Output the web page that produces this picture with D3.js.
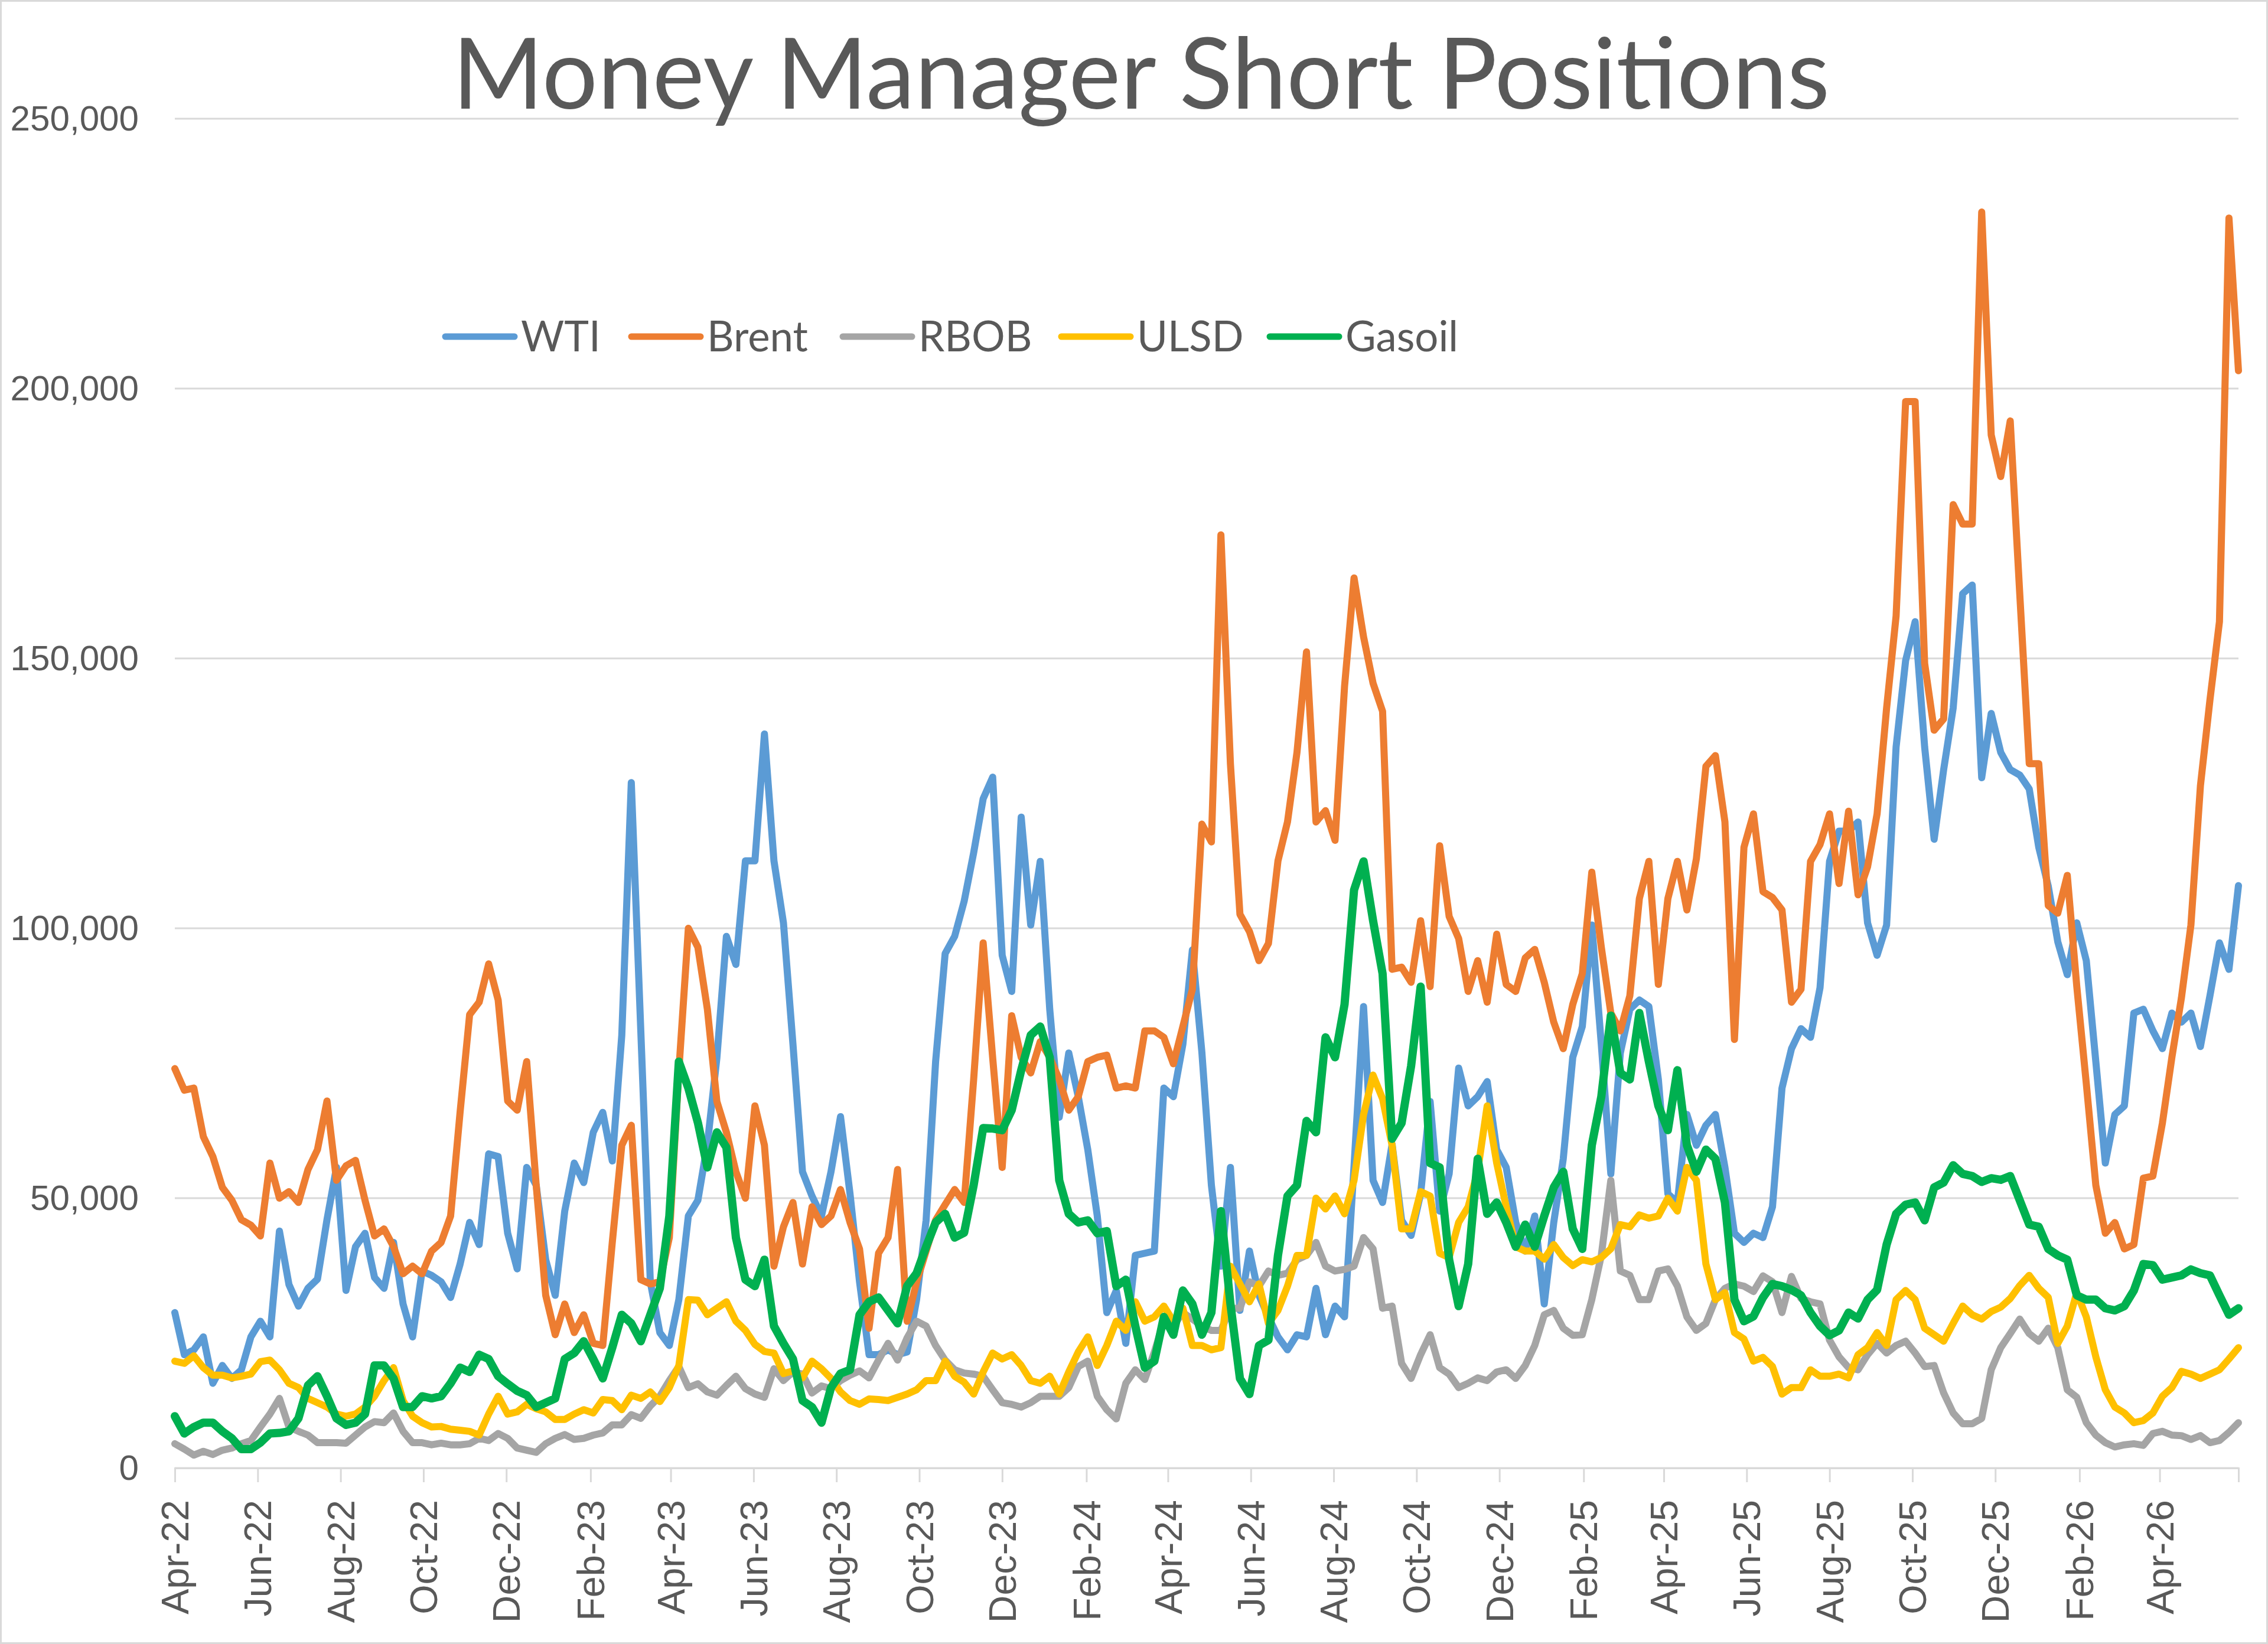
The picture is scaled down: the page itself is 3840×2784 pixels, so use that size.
<!DOCTYPE html>
<html>
<head>
<meta charset="utf-8">
<script src="https://cdn.jsdelivr.net/npm/d3@7"></script>
<style>
  html, body { margin: 0; padding: 0; background: #fff; }
  svg { display: block; font-family: Lato, "Open Sans", sans-serif; }
</style>
</head>
<body>
<svg id="chart"></svg>
<script>
// weekly report dates start here, one point per week
const firstWeek = "2022-04-05";
const seriesNames = ["WTI", "Brent", "RBOB", "ULSD", "Gasoil"];
const seriesColors = ["#5B9BD5", "#ED7D31", "#A5A5A5", "#FFC000", "#00B050"];
const yTicks = [0, 50000, 100000, 150000, 200000, 250000];
const tickLabels = ["Apr-22", "Jun-22", "Aug-22", "Oct-22", "Dec-22", "Feb-23", "Apr-23", "Jun-23",
    "Aug-23", "Oct-23", "Dec-23", "Feb-24", "Apr-24", "Jun-24", "Aug-24", "Oct-24", "Dec-24",
    "Feb-25", "Apr-25", "Jun-25", "Aug-25", "Oct-25", "Dec-25", "Feb-26", "Apr-26"];

const wti = [
    28800, 21000, 21900, 24300, 15700, 19000, 16600, 18200, 24300, 27200,
    24300, 43900, 34000, 30000, 33300, 35000, 46000, 55700, 32900, 41000,
    43500, 35300, 33300, 41800, 30400, 24300, 36500, 35700, 34500, 31600,
    37800, 45500, 41400, 58200, 57700, 43500, 36900, 55700, 52400, 38600,
    32000, 47600, 56500, 52900, 62200, 65900, 56900, 80200, 127000, 81000,
    34500, 25100, 22700, 31200, 46700, 49600, 60000, 76000, 98500, 93300,
    112500, 112500, 136000, 112500, 101000, 78500, 54900, 50400, 46700, 54900,
    65100, 50800, 34500, 21000, 21000, 21900, 21000, 21500, 31200, 45900,
    75300, 95300, 98500, 105000, 114000, 124000, 128000, 95000, 88300, 120600,
    100600, 112400, 85000, 65000, 76900, 68800, 59000, 46700, 28800, 32900,
    23100, 39400, 39800, 40200, 70400, 68800, 78500, 96000, 77000, 52400,
    37400, 55700, 29200, 40200, 32000, 28000, 24300, 21900, 24700, 24300,
    33300, 24700, 30000, 28000, 56000, 85500, 53300, 49200, 60000, 45900,
    43100, 50800, 67900, 47600, 54500, 74100, 67100, 68800, 71600, 59000,
    55700, 45500, 40200, 46700, 30400, 45500, 57300, 76100, 81800, 100600,
    78500, 54500, 76900, 85000, 86700, 85500, 72000, 50800, 49200, 65500,
    59800, 63500, 65500, 55700, 43500, 41800, 43500, 42700, 48400, 70400,
    77700, 81400, 79800, 89000, 112400, 118000, 118000, 119700, 101000, 95000,
    100600, 133600, 149600, 156800, 133600, 116500, 129400, 140800, 162000, 163600,
    127900, 139800, 132600, 129400, 128400, 125800, 115000, 107800, 97500, 91400,
    101000, 94000, 75300, 56500, 65500, 67100, 84300, 85000, 81000, 77700,
    84300, 82600, 84300, 78100, 87500, 97300, 92400, 107900
];

const brent = [
    74000, 70000, 70400, 61400, 57700, 52000, 49600, 46000, 45000, 43000,
    56500, 50000, 51200, 49200, 55300, 59000, 68000, 53300, 56000, 57000,
    49600, 43000, 44300, 41000, 36000, 37400, 36000, 40200, 41800, 46700,
    66000, 84000, 86300, 93400, 86700, 68000, 66300, 75300, 52400, 32000,
    24700, 30400, 25100, 28400, 23100, 22700, 41800, 59800, 63500, 34900,
    34100, 34500, 42700, 73600, 100000, 96500, 85000, 67900, 62200, 54900,
    50000, 67100, 59800, 37400, 44700, 49200, 37800, 48400, 45100, 46700,
    51600, 45500, 40600, 25900, 39800, 42700, 55300, 27200, 34500, 40200,
    45900, 48800, 51600, 49200, 72000, 97300, 76000, 55700, 83800, 76100,
    73200, 79000, 76100, 72000, 66300, 68800, 75300, 76100, 76500, 70400,
    70800, 70400, 81000, 81000, 79800, 74900, 81800, 88700, 119300, 116000,
    172900, 130500, 102600, 99400, 94000, 97200, 112500, 119700, 132600, 151200,
    119700, 121800, 116300, 144800, 164900, 154000, 145400, 140200, 92400, 92800,
    90000, 101400, 89200, 115300, 102200, 98100, 88300, 94000, 86300, 98900,
    89600, 88300, 94500, 96100, 90000, 82600, 77700, 85900, 91600, 110400,
    96500, 84300, 81000, 87500, 105500, 112400, 89600, 105500, 112400, 103400,
    112900, 130000, 132000, 119700, 79400, 115000, 121200, 106800, 105700, 103400,
    86300, 88700, 112400, 115500, 121200, 108300, 121700, 106200, 111400, 121200,
    140800, 157900, 197600, 197600, 149100, 136700, 138800, 178500, 174900, 174900,
    232700, 191400, 183700, 194000, 162000, 130500, 130500, 104200, 102800, 109800,
    89200, 71200, 52400, 43500, 45500, 40600, 41400, 53700, 54100, 63900,
    76100, 87100, 100600, 126400, 142300, 156800, 231600, 203300
];

const rbob = [
    4500, 3500, 2400, 3100, 2500, 3300, 3700, 4500, 5100, 7600,
    10000, 12900, 7600, 6800, 6100, 4700, 4700, 4700, 4600, 6100,
    7600, 8600, 8400, 10200, 6800, 4700, 4700, 4300, 4600, 4300,
    4300, 4500, 5500, 5100, 6400, 5500, 3700, 3300, 2900, 4500,
    5500, 6200, 5300, 5500, 6100, 6500, 8000, 8000, 9900, 9200,
    11500, 13300, 16200, 18800, 14900, 15600, 14100, 13500, 15300, 17000,
    14700, 13700, 13100, 18400, 16200, 17800, 17400, 13900, 15200, 14700,
    16200, 17200, 18000, 16700, 20000, 23100, 20000, 24100, 27200, 26300,
    22700, 20000, 18200, 17600, 17400, 17000, 14500, 12100, 11800, 11300,
    12100, 13300, 13300, 13300, 14900, 18800, 19800, 13300, 10800, 9100,
    15700, 18200, 16400, 21500, 27200, 26300, 28800, 27600, 26300, 25500,
    25500, 29600, 29600, 34500, 33700, 36500, 35700, 36100, 38600, 39400,
    41800, 37400, 36500, 36800, 37400, 42700, 40600, 29600, 30000, 19400,
    16600, 21000, 24700, 18600, 17400, 14900, 15700, 16700, 16200, 17800,
    18200, 16600, 19000, 22700, 28400, 29200, 25900, 24600, 24700, 31200,
    39400, 53300, 36500, 35700, 31200, 31200, 36500, 36900, 33700, 28000,
    25500, 26800, 31200, 33300, 34100, 33700, 32700, 35600, 34500, 28800,
    35500, 31400, 30800, 30400, 23700, 20600, 18600, 18200, 21000, 23100,
    21300, 22700, 23500, 21300, 18800, 19000, 13900, 10200, 8200, 8200,
    9200, 18200, 22300, 24900, 27600, 24900, 23500, 25900, 22300, 14500,
    13100, 8400, 6100, 4700, 3900, 4300, 4500, 4200, 6400, 6800,
    6100, 6000, 5300, 6000, 4700, 5100, 6600, 8400
];

const ulsd = [
    19800, 19400, 20800, 18600, 17200, 17200, 16700, 17000, 17400, 19700,
    20000, 18200, 15700, 14900, 12900, 12100, 11300, 10000, 9600, 10000,
    11300, 13300, 16200, 18600, 12500, 9600, 8400, 7600, 7700, 7200,
    7000, 6800, 6100, 10000, 13300, 10000, 10400, 11800, 11000, 10400,
    9000, 9000, 10000, 10800, 10200, 12700, 12500, 10800, 13500, 12900,
    14100, 12300, 14900, 19000, 31200, 31100, 28400, 29600, 30800, 27200,
    25500, 22900, 21600, 21300, 17500, 18000, 16700, 19800, 18400, 16600,
    14100, 12500, 11800, 12800, 12700, 12500, 13100, 13700, 14500, 16200,
    16200, 19800, 17000, 15900, 13700, 17800, 21300, 20200, 21000, 19000,
    16200, 15700, 17000, 13700, 17800, 21500, 24300, 19000, 22700, 27200,
    25500, 30800, 27200, 28000, 30000, 27200, 29600, 22700, 22700, 21900,
    22300, 37400, 34100, 30800, 34100, 26800, 29200, 33700, 39400, 39400,
    50000, 48000, 50400, 47100, 53300, 65500, 72800, 68400, 59800, 44300,
    44300, 51200, 50400, 39800, 39000, 45500, 48400, 55000, 67100, 56500,
    48400, 41000, 40200, 40200, 38700, 41400, 39000, 37500, 38600, 38200,
    39000, 40600, 45100, 44700, 46900, 46300, 46700, 50000, 47600, 55700,
    53300, 37800, 31200, 32500, 25100, 23900, 19800, 20500, 18800, 13700,
    14900, 14900, 18200, 17000, 17000, 17400, 16700, 21000, 22300, 25100,
    22700, 31200, 32900, 31200, 25900, 24700, 23500, 26800, 30000, 28400,
    27600, 29000, 29800, 31400, 33800, 35700, 33300, 31600, 23100, 26300,
    32500, 28000, 20600, 14500, 11300, 10200, 8400, 8800, 10200, 13300,
    14900, 17900, 17400, 16600, 17400, 18200, 20200, 22300
];

const gasoil = [
    9600, 6400, 7600, 8400, 8400, 6800, 5500, 3500, 3500, 4700,
    6400, 6500, 6800, 9200, 15300, 17000, 13300, 9200, 8000, 8400,
    10000, 19000, 19000, 16600, 11300, 11300, 13300, 12900, 13300, 15700,
    18600, 17800, 21000, 20200, 17000, 15600, 14300, 13500, 11300, 12100,
    12900, 20200, 21300, 23500, 20200, 16600, 22300, 28400, 26800, 23500,
    28400, 33300, 46700, 75300, 70400, 64000, 55700, 62200, 59400, 42700,
    34900, 33700, 38600, 26300, 23100, 20200, 12500, 11300, 8400, 14900,
    17500, 18200, 28400, 30800, 31600, 29200, 26800, 33700, 36100, 41000,
    45500, 47100, 42700, 43600, 52400, 63000, 62900, 62600, 66300, 73700,
    80200, 81800, 76100, 53300, 47100, 45500, 45900, 43500, 43900, 33700,
    34900, 26300, 18600, 19800, 28000, 24700, 32900, 30400, 24700, 28800,
    47600, 30400, 16600, 13700, 22700, 23700, 39400, 50400, 52400, 64300,
    62200, 79800, 76100, 85900, 107100, 112400, 101400, 91600, 61000, 63900,
    74500, 89200, 56500, 55700, 38600, 30000, 37800, 57300, 47100, 49200,
    45500, 41000, 45100, 41000, 46700, 52000, 54900, 44300, 40600, 59800,
    68800, 83800, 73200, 72000, 84300, 75300, 67100, 62600, 73700, 59800,
    54900, 59000, 57300, 49200, 31200, 27200, 28100, 31600, 34100, 33700,
    33000, 32000, 28800, 26300, 24600, 25500, 28800, 27700, 31200, 33000,
    41400, 47100, 48800, 49200, 45900, 52000, 52900, 56100, 54500, 54100,
    53000, 53700, 53400, 54100, 49600, 45100, 44700, 40600, 39400, 38600,
    32000, 31200, 31200, 29600, 29200, 30000, 32900, 37800, 37600, 34900,
    35300, 35700, 36800, 36100, 35700, 32000, 28400, 29600
];

class ShortPositionsChart {
    constructor() {
        this.width = 3840;
        this.height = 2784;
        this.plot = { left: 296, right: 3790, top: 201, bottom: 2486 };
        this.grid = "#d9d9d9";
        this.textColor = "#595959";
        this.svg = null;
    }

    // pick a font size so that `sample` comes out `target` px wide
    fitSize(sample, target) {
        const t = this.svg.append("text").attr("font-size", 100).text(sample);
        const w = t.node().getComputedTextLength();
        t.remove();
        return 100 * target / w;
    }

    render() {
        const start = d3.utcParse("%Y-%m-%d")(firstWeek);
        const weeks = wti.map((d, i) => d3.utcDay.offset(start, 7 * i));
        const tickDates = tickLabels.map((d, k) => d3.utcMonth.offset(start, 2 * k));
        const series = [wti, brent, rbob, ulsd, gasoil];

        this.svg = d3.select("#chart")
            .attr("width", this.width)
            .attr("height", this.height);

        this.svg.append("rect")
            .attr("x", 1.5).attr("y", 1.5)
            .attr("width", this.width - 3).attr("height", this.height - 3)
            .attr("fill", "#fff")
            .attr("stroke", this.grid)
            .attr("stroke-width", 3);

        const x = d3.scaleUtc()
            .domain([weeks[0], weeks[weeks.length - 1]])
            .range([this.plot.left, this.plot.right]);
        const y = d3.scaleLinear()
            .domain([0, 250000])
            .range([this.plot.bottom, this.plot.top]);

        const axisSize = this.fitSize("250,000", 223);
        const xLabelSize = this.fitSize("Dec-22", 212);

        // gridlines
        this.svg.append("g")
            .selectAll("line")
            .data(yTicks)
            .enter().append("line")
                .attr("x1", this.plot.left)
                .attr("x2", this.plot.right)
                .attr("y1", d => y(d))
                .attr("y2", d => y(d))
                .attr("stroke", this.grid)
                .attr("stroke-width", 3);

        // y axis labels
        const yAxis = this.svg.append("g")
            .attr("transform", `translate(${this.plot.left},0)`)
            .call(d3.axisLeft(y).tickValues(yTicks).tickSize(0).tickPadding(61).tickFormat(d3.format(",")));
        yAxis.select(".domain").remove();
        yAxis.selectAll("text")
            .attr("font-family", null)
            .attr("font-size", axisSize)
            .attr("fill", this.textColor);

        // x axis with rotated month labels
        const xAxis = this.svg.append("g")
            .attr("transform", `translate(0,${this.plot.bottom})`)
            .call(d3.axisBottom(x).tickValues(tickDates).tickSize(24).tickFormat((d, i) => tickLabels[i]));
        xAxis.select(".domain")
            .attr("stroke", this.grid)
            .attr("stroke-width", 3);
        xAxis.selectAll(".tick line")
            .attr("stroke", this.grid)
            .attr("stroke-width", 3);
        xAxis.selectAll("text")
            .attr("font-family", null)
            .attr("font-size", xLabelSize)
            .attr("fill", this.textColor)
            .attr("transform", "rotate(-90)")
            .attr("text-anchor", "end")
            .attr("x", -54)
            .attr("y", 0)
            .attr("dy", "0.35em");

        // series lines, gasoil drawn a bit heavier
        const line = d3.line()
            .x((d, i) => x(weeks[i]))
            .y(d => y(d));

        this.svg.append("g")
            .selectAll("path")
            .data(series)
            .enter().append("path")
                .attr("d", line)
                .attr("fill", "none")
                .attr("stroke", (d, i) => seriesColors[i])
                .attr("stroke-width", (d, i) => i === 4 ? 14 : 12)
                .attr("stroke-linejoin", "round")
                .attr("stroke-linecap", "round");

        // legend
        const legendSize = this.fitSize("Brent", 171);
        const legendX = [754, 1069, 1427, 1797, 2150];
        const legend = this.svg.append("g")
            .selectAll("g")
            .data(seriesNames)
            .enter().append("g")
                .attr("transform", (d, i) => `translate(${legendX[i]},570)`);
        legend.append("line")
            .attr("x1", 0).attr("x2", 117)
            .attr("stroke", (d, i) => seriesColors[i])
            .attr("stroke-width", 11)
            .attr("stroke-linecap", "round");
        legend.append("text")
            .attr("x", 128)
            .attr("dy", "0.36em")
            .attr("font-size", legendSize)
            .attr("fill", this.textColor)
            .text(d => d);

        // title
        const title = "Money Manager Short Positions";
        this.svg.append("text")
            .attr("x", 1932)
            .attr("y", 184)
            .attr("text-anchor", "middle")
            .attr("font-size", this.fitSize(title, 2332))
            .attr("fill", this.textColor)
            .text(title);
    }
}

new ShortPositionsChart().render();
</script>
</body>
</html>
